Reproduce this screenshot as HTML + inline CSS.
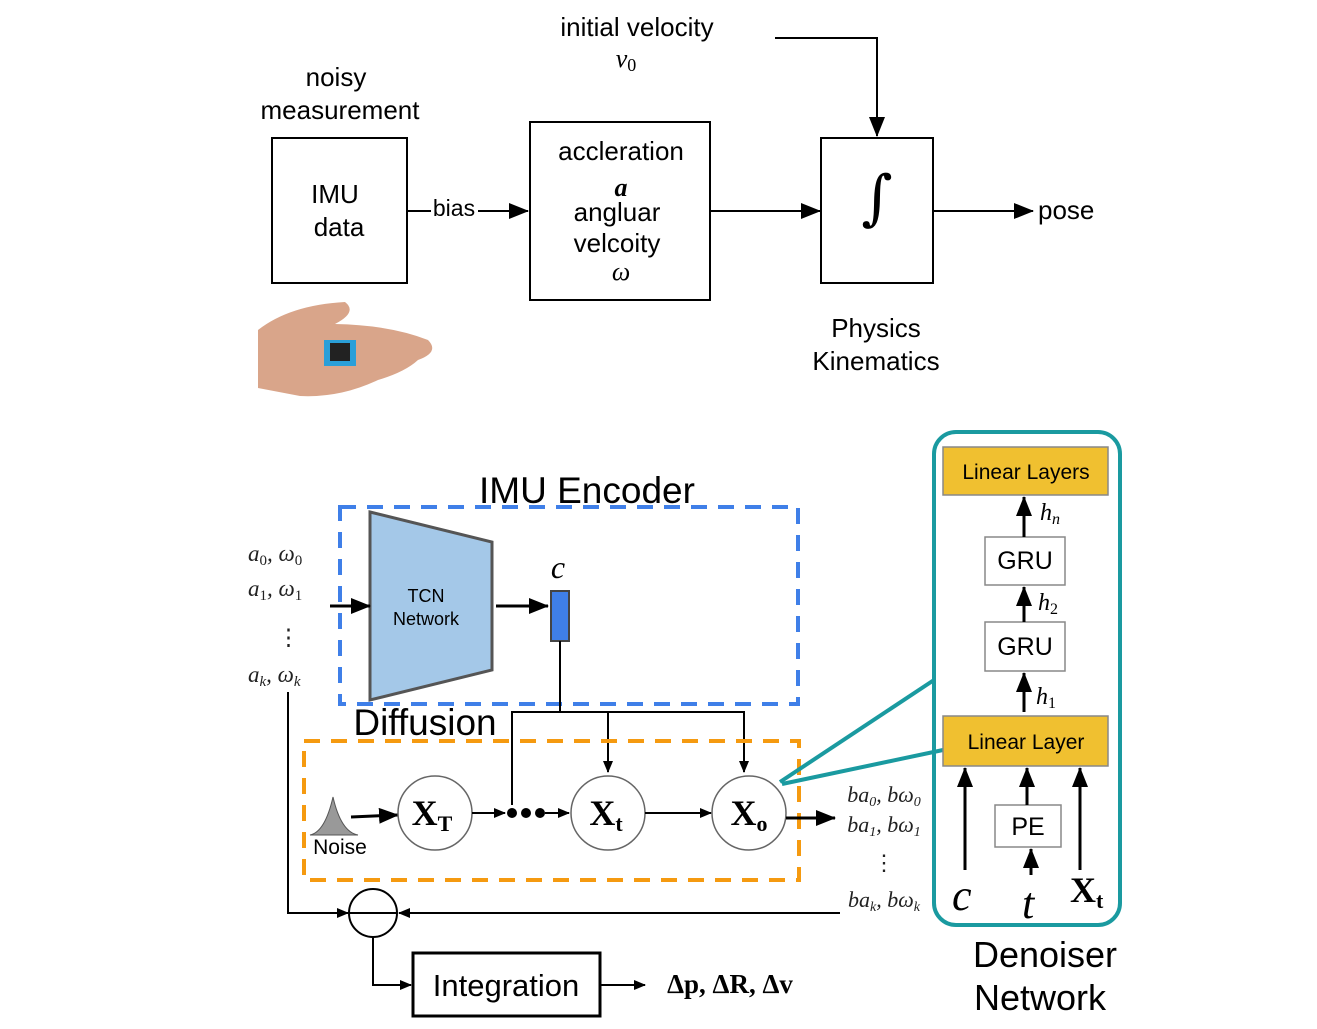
<!DOCTYPE html>
<html><head><style>body{margin:0;background:#fff}svg{display:block}</style></head><body>
<svg width="1317" height="1029" viewBox="0 0 1317 1029" xmlns="http://www.w3.org/2000/svg" font-family="Liberation Sans, sans-serif">
<defs>
<marker id="b" markerWidth="20" markerHeight="16" refX="19" refY="8" orient="auto" markerUnits="userSpaceOnUse"><path d="M0,0L20,8L0,16z"/></marker>
<marker id="s" markerWidth="12" markerHeight="10" refX="11" refY="5" orient="auto" markerUnits="userSpaceOnUse"><path d="M0,0L12,5L0,10z"/></marker>
</defs>
<g font-size="26" text-anchor="middle" fill="#000">
<text x="336" y="86">noisy</text><text x="340" y="119">measurement</text>
<rect x="272" y="138" width="135" height="145" fill="none" stroke="#000" stroke-width="2"/>
<text x="335" y="203">IMU</text><text x="339" y="236">data</text>
<line x1="407" y1="211" x2="431" y2="211" stroke="#000" stroke-width="2"/>
<text x="454" y="216" font-size="23">bias</text>
<line x1="478" y1="211" x2="528" y2="211" stroke="#000" stroke-width="2" marker-end="url(#b)"/>
<rect x="530" y="122" width="180" height="178" fill="none" stroke="#000" stroke-width="2"/>
<text x="621" y="160">accleration</text>
<text x="621" y="196" font-family="Liberation Serif, serif" font-style="italic" font-weight="bold">a</text>
<text x="617" y="221">angluar</text><text x="617" y="252">velcoity</text>
<text x="621" y="280" font-family="Liberation Serif, serif" font-style="italic">ω</text>
<line x1="710" y1="211" x2="820" y2="211" stroke="#000" stroke-width="2" marker-end="url(#b)"/>
<rect x="821" y="138" width="112" height="145" fill="none" stroke="#000" stroke-width="2"/>
<text x="877" y="218" font-size="60" font-family="DejaVu Serif, serif">∫</text>
<line x1="933" y1="211" x2="1033" y2="211" stroke="#000" stroke-width="2" marker-end="url(#b)"/>
<text x="1038" y="219" text-anchor="start">pose</text>
<text x="637" y="36">initial velocity</text>
<text x="626" y="67" font-family="Liberation Serif, serif" font-style="italic">v<tspan font-style="normal" font-size="18" dy="4">0</tspan></text>
<polyline points="775,38 877,38 877,136" fill="none" stroke="#000" stroke-width="2" marker-end="url(#b)"/>
<text x="876" y="337">Physics</text><text x="876" y="370">Kinematics</text>
</g>
<!-- hand -->
<path d="M258,330 Q290,305 345,302 Q358,312 335,324 Q390,325 428,340 Q440,352 418,360 Q405,372 378,380 Q340,398 300,396 L258,388 Z" fill="#d9a58a"/>
<rect x="324" y="340" width="32" height="26" fill="#2a9fd8"/><rect x="330" y="343" width="20" height="18" fill="#222"/>
<!-- encoder -->
<text x="587" y="503" font-size="37" text-anchor="middle">IMU Encoder</text>
<rect x="340" y="507" width="458" height="197" fill="none" stroke="#3f7fe8" stroke-width="4" stroke-dasharray="16,11"/>
<polygon points="370,512 492,542 492,670 370,700" fill="#a4c8e8" stroke="#555" stroke-width="3"/>
<text x="426" y="602" font-size="18" text-anchor="middle">TCN</text><text x="426" y="625" font-size="18" text-anchor="middle">Network</text>
<line x1="330" y1="606" x2="370" y2="606" stroke="#000" stroke-width="3" marker-end="url(#b)"/>
<line x1="496" y1="606" x2="548" y2="606" stroke="#000" stroke-width="3" marker-end="url(#b)"/>
<rect x="551" y="591" width="18" height="50" fill="#3f7fe8" stroke="#444" stroke-width="2"/>
<text x="558" y="578" font-size="32" font-family="Liberation Serif, serif" font-style="italic" text-anchor="middle">c</text>
<g font-family="Liberation Serif, serif" font-style="italic" font-size="23" fill="#222">
<text x="248" y="561">a<tspan font-size="15" font-style="normal" dy="4">0</tspan><tspan dy="-4">, ω</tspan><tspan font-size="15" font-style="normal" dy="4">0</tspan></text>
<text x="248" y="596">a<tspan font-size="15" font-style="normal" dy="4">1</tspan><tspan dy="-4">, ω</tspan><tspan font-size="15" font-style="normal" dy="4">1</tspan></text>
<text x="277" y="645" font-style="normal">⋮</text>
<text x="248" y="682">a<tspan font-size="15" dy="4">k</tspan><tspan dy="-4">, ω</tspan><tspan font-size="15" dy="4">k</tspan></text>
</g>
<g stroke="#000" stroke-width="2" fill="none">
<line x1="560" y1="641" x2="560" y2="712"/>
<polyline points="512,805 512,712 744,712 744,772" marker-end="url(#s)"/>
<line x1="608" y1="712" x2="608" y2="772" marker-end="url(#s)"/>
</g>
<text x="425" y="735" font-size="37" text-anchor="middle">Diffusion</text>
<rect x="304" y="741" width="495" height="139" fill="none" stroke="#f59a10" stroke-width="4" stroke-dasharray="16,11"/>
<path d="M310,835 Q325,832 333,797 Q341,832 358,835 Z" fill="#999" stroke="#555"/>
<text x="340" y="854" font-size="21" text-anchor="middle">Noise</text>
<line x1="351" y1="817" x2="398" y2="815" stroke="#000" stroke-width="3" marker-end="url(#b)"/>
<g fill="#fff" stroke="#666" stroke-width="1.5">
<circle cx="435" cy="813" r="37"/><circle cx="608" cy="813" r="37"/><circle cx="749" cy="813" r="37"/></g>
<g font-family="Liberation Serif, serif" font-weight="bold" font-size="36" text-anchor="middle">
<text x="432" y="825">X<tspan font-size="22" dy="6">T</tspan></text>
<text x="606" y="825">X<tspan font-size="22" dy="6">t</tspan></text>
<text x="749" y="825">X<tspan font-size="22" dy="6">o</tspan></text></g>
<line x1="472" y1="813" x2="505" y2="813" stroke="#000" stroke-width="2" marker-end="url(#s)"/>
<circle cx="512" cy="813" r="5"/><circle cx="526" cy="813" r="5"/><circle cx="540" cy="813" r="5"/>
<line x1="545" y1="813" x2="569" y2="813" stroke="#000" stroke-width="2" marker-end="url(#s)"/>
<line x1="645" y1="813" x2="711" y2="813" stroke="#000" stroke-width="2" marker-end="url(#s)"/>
<line x1="786" y1="818" x2="835" y2="818" stroke="#000" stroke-width="3" marker-end="url(#b)"/>
<g font-family="Liberation Serif, serif" font-style="italic" font-size="22" fill="#222" text-anchor="middle">
<text x="884" y="802">ba<tspan font-size="14" dy="4">0</tspan><tspan dy="-4">, bω</tspan><tspan font-size="14" dy="4">0</tspan></text>
<text x="884" y="832">ba<tspan font-size="14" dy="4">1</tspan><tspan dy="-4">, bω</tspan><tspan font-size="14" dy="4">1</tspan></text>
<text x="884" y="870" font-style="normal">⋮</text>
<text x="884" y="907">ba<tspan font-size="14" dy="4">k</tspan><tspan dy="-4">, bω</tspan><tspan font-size="14" dy="4">k</tspan></text></g>
<g stroke="#000" stroke-width="2" fill="none">
<polyline points="288,692 288,913 348,913" marker-end="url(#s)"/>
<circle cx="373" cy="913" r="24"/><line x1="349" y1="913" x2="397" y2="913"/>
<line x1="840" y1="913" x2="399" y2="913" marker-end="url(#s)"/>
<polyline points="373,937 373,985 411,985" marker-end="url(#s)"/>
<rect x="413" y="953" width="187" height="63" stroke-width="3"/>
<line x1="600" y1="985" x2="645" y2="985" marker-end="url(#s)"/>
</g>
<text x="506" y="996" font-size="31" text-anchor="middle">Integration</text>
<text x="730" y="993" font-size="27" font-family="Liberation Serif, serif" font-weight="bold" text-anchor="middle">Δp, ΔR, Δv</text>
<!-- denoiser -->
<g stroke="#1a9aa0" stroke-width="4"><line x1="780" y1="782" x2="934" y2="680"/><line x1="782" y1="784" x2="943" y2="750"/></g>
<rect x="934" y="432" width="186" height="493" rx="22" fill="none" stroke="#1a9aa0" stroke-width="4"/>
<g stroke="#888" stroke-width="1.5">
<rect x="943" y="447" width="165" height="48" fill="#f0c030"/>
<rect x="985" y="537" width="80" height="48" fill="#fff"/>
<rect x="985" y="622" width="80" height="49" fill="#fff"/>
<rect x="943" y="716" width="165" height="50" fill="#f0c030"/>
<rect x="995" y="805" width="66" height="42" fill="#fff"/></g>
<g font-size="21" text-anchor="middle"><text x="1026" y="479">Linear Layers</text><text x="1026" y="749">Linear Layer</text>
<text x="1025" y="569" font-size="25">GRU</text><text x="1025" y="655" font-size="25">GRU</text><text x="1028" y="835" font-size="25">PE</text></g>
<g stroke="#000" stroke-width="3">
<line x1="1024" y1="537" x2="1024" y2="497" marker-end="url(#b)"/>
<line x1="1024" y1="622" x2="1024" y2="587" marker-end="url(#b)"/>
<line x1="1024" y1="712" x2="1024" y2="673" marker-end="url(#b)"/>
<line x1="965" y1="870" x2="965" y2="768" marker-end="url(#b)"/>
<line x1="1027" y1="805" x2="1027" y2="768" marker-end="url(#b)"/>
<line x1="1031" y1="875" x2="1031" y2="849" marker-end="url(#b)"/>
<line x1="1080" y1="870" x2="1080" y2="768" marker-end="url(#b)"/></g>
<g font-family="Liberation Serif, serif" font-style="italic" font-size="24">
<text x="1040" y="520">h<tspan font-size="16" dy="4">n</tspan></text>
<text x="1038" y="610">h<tspan font-size="16" font-style="normal" dy="4">2</tspan></text>
<text x="1036" y="704">h<tspan font-size="16" font-style="normal" dy="4">1</tspan></text>
<text x="952" y="910" font-size="44">c</text>
<text x="1022" y="918" font-size="44">t</text></g>
<text x="1070" y="902" font-family="Liberation Serif, serif" font-weight="bold" font-size="36">X<tspan font-size="22" dy="6">t</tspan></text>
<text x="1045" y="967" font-size="36" text-anchor="middle">Denoiser</text>
<text x="1040" y="1010" font-size="36" text-anchor="middle">Network</text>
</svg>
</body></html>
